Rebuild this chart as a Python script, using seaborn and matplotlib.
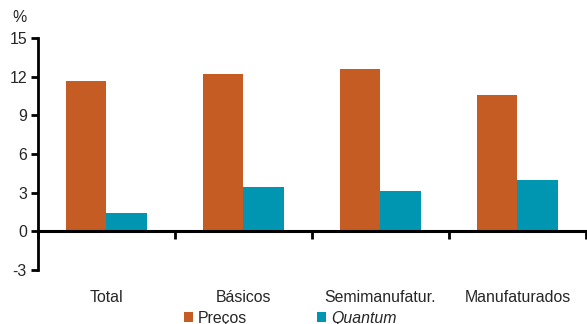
import matplotlib
matplotlib.use("Agg")
import matplotlib.pyplot as plt
import seaborn as sns
import pandas as pd
from matplotlib.patches import Patch

categories = ["Total", "Básicos", "Semimanufatur.", "Manufaturados"]
precos = [11.7, 12.2, 12.6, 10.6]
quantum = [1.45, 3.45, 3.1, 4.0]
series_names = ["Preços", "Quantum"]
yticks = [-3, 0, 3, 6, 9, 12, 15]

colors = ["#C45C24", "#0096B1"]

df = pd.DataFrame({
    "cat": categories * 2,
    "val": precos + quantum,
    "serie": [series_names[0]] * 4 + [series_names[1]] * 4,
})

sns.set_style("white")
plt.rcParams["font.family"] = ["Liberation Sans", "DejaVu Sans"]
FS = 11.4

fig = plt.figure(figsize=(5.87, 3.24), dpi=100)
ax = fig.add_axes([38 / 587, 1 - 270 / 324, 548 / 587, (270 - 38) / 324])

sns.barplot(data=df, x="cat", y="val", hue="serie", order=categories,
            hue_order=series_names, palette=colors, width=0.585,
            saturation=1, legend=False, linewidth=0, ax=ax)

ax.set_xlim(-0.5, 3.5)
ax.set_ylim(-3, 15)
ax.set_yticks(yticks)
ax.set_yticklabels([str(v) for v in yticks], fontsize=FS)
ax.set_xlabel("")
ax.set_ylabel("")

for s in ["top", "right"]:
    ax.spines[s].set_visible(False)
ax.spines["left"].set_color("black")
ax.spines["left"].set_linewidth(2)
ax.spines["bottom"].set_position(("data", 0))
ax.spines["bottom"].set_color("black")
ax.spines["bottom"].set_linewidth(2.2)

ax.set_xticks([-0.5, 0.5, 1.5, 2.5, 3.5])
ax.set_xticklabels([])
ax.set_xticks(range(len(categories)), minor=True)
ax.set_xticklabels(categories, minor=True, fontsize=FS)
ax.tick_params(axis="x", which="major", direction="out", length=6, width=2, color="black", bottom=True)
ax.tick_params(axis="x", which="minor", length=0, pad=42, bottom=True)
ax.tick_params(axis="y", direction="out", length=5, width=2, color="black", left=True, pad=3)

fig.text(12 / 587, 1 - 17 / 324, "%", fontsize=FS, ha="left", va="center")

handles = [Patch(facecolor=colors[0], edgecolor="none"), Patch(facecolor=colors[1], edgecolor="none")]
leg = fig.legend(handles, series_names, loc="center", bbox_to_anchor=(290 / 587, 1 - 318 / 324),
                 ncol=2, frameon=False, fontsize=FS, handlelength=0.6, handleheight=0.6,
                 handletextpad=0.3, columnspacing=4.4, borderaxespad=0)
leg.get_texts()[1].set_fontstyle("italic")

fig.savefig("out.png", dpi=100)
